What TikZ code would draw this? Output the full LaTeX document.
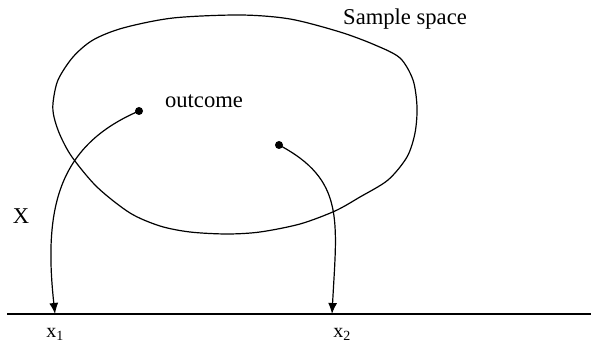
\documentclass[tikz,border=0pt]{standalone}
\usepackage{fontspec}
\setmainfont{Liberation Serif}
\usetikzlibrary{arrows.meta}
\begin{document}
\begin{tikzpicture}[x=1pt,y=-1pt,
  line/.style={line width=1.2pt},
  conn/.style={line width=1.2pt,-{Latex[length=11pt,width=9pt]}},
  dotnode/.style={circle,fill=black,inner sep=0pt,minimum size=8pt},
  lbl/.style={font=\fontsize{22.6}{27}\selectfont,inner sep=0pt,anchor=base},
  sublbl/.style={font=\fontsize{20}{24}\selectfont,inner sep=0pt,anchor=base}]
\useasboundingbox (0,0) rectangle (591,344);
% sample space blob
\draw[line] plot[smooth cycle,tension=0.5] coordinates {
  (53,103) (58,80) (73,57) (93,40) (123,28) (173,18) (240,15) (290,19)
  (340,32) (375,45) (400,58) (413,80) (417,107) (415,133) (407,157)
  (388,180) (360,197) (335,211) (300,224) (260,232) (227,234) (190,232)
  (160,226) (130,213) (97,187) (72,157) (60,135) (54,117)};
% axis
\coordinate (axL) at (7,314);
\coordinate (axR) at (591,314);
\draw[line] (axL) -- (axR);
% dots
\node[dotnode] (o1) at (139,111) {};
\node[dotnode] (o2) at (279,145) {};
\coordinate (t1) at (55,314);
\coordinate (t2) at (332,314);
% connectors
\draw[conn] (o1.center) .. controls (60,145) and (43,205) .. (t1);
\draw[conn] (o2.center) .. controls (345,180) and (337,220) .. (t2);
% labels
\node[lbl] (ss) at (405,25) {Sample space};
\node[lbl] (oc) at (204,108) {outcome};
\node[lbl] (X) at (21,224) {X};
\node[sublbl] (x1) at (55,337) {x\textsubscript{1}};
\node[sublbl] (x2) at (342,337) {x\textsubscript{2}};
\end{tikzpicture}
\end{document}
